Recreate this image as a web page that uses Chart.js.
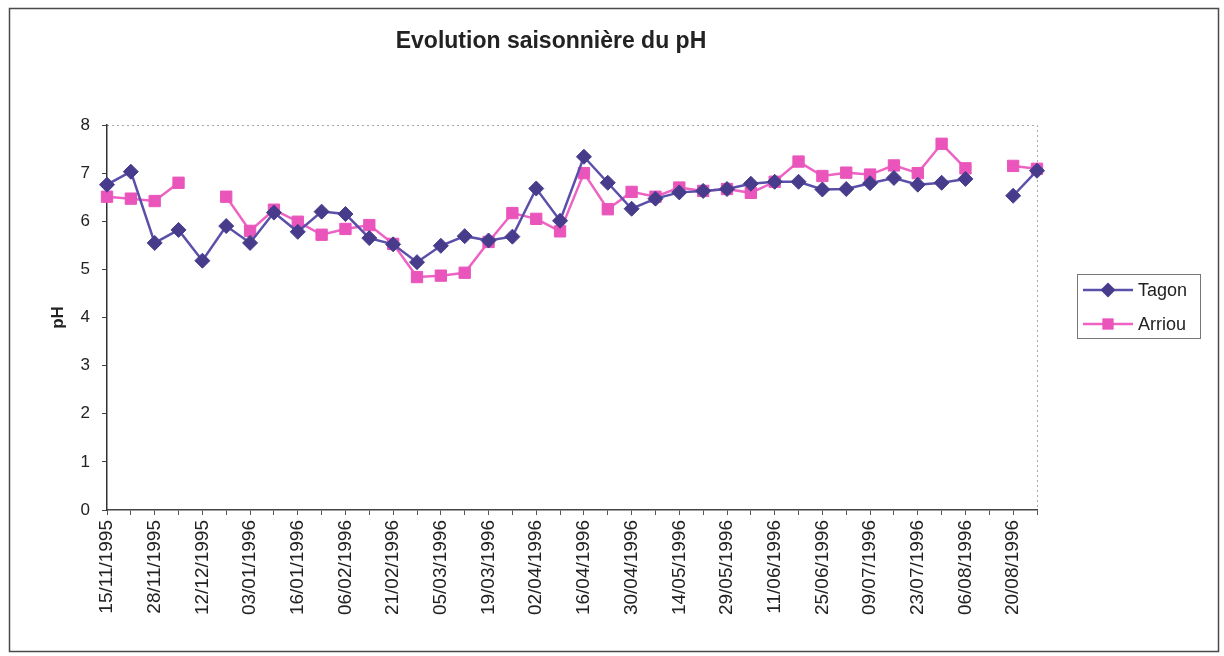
<!DOCTYPE html>
<html>
<head>
<meta charset="utf-8">
<title>Evolution saisonnière du pH</title>
<script src="https://cdn.jsdelivr.net/npm/chart.js@4/dist/chart.umd.min.js"></script>
<style>
  html, body { margin: 0; padding: 0; background: #fff; }
  #wrap { position: relative; width: 1224px; height: 656px; }
</style>
</head>
<body>
<div id="wrap"><canvas id="phChart" width="1224" height="656"></canvas></div>
<script>
// sampling dates (only every second date is printed on the axis)
const dates = [
  '15/11/1995', '', '28/11/1995', '', '12/12/1995', '', '03/01/1996', '', '16/01/1996', '',
  '06/02/1996', '', '21/02/1996', '', '05/03/1996', '', '19/03/1996', '', '02/04/1996', '',
  '16/04/1996', '', '30/04/1996', '', '14/05/1996', '', '29/05/1996', '', '11/06/1996', '',
  '25/06/1996', '', '09/07/1996', '', '23/07/1996', '', '06/08/1996', '', '20/08/1996', ''
];

const tagon = [
  6.76, 7.03, 5.55, 5.82, 5.18, 5.90, 5.55, 6.18, 5.78, 6.20,
  6.15, 5.65, 5.52, 5.15, 5.49, 5.69, 5.60, 5.68, 6.68, 6.01,
  7.34, 6.80, 6.26, 6.47, 6.60, 6.63, 6.67, 6.78, 6.82, 6.82,
  6.66, 6.67, 6.79, 6.90, 6.76, 6.80, 6.88, null, 6.53, 7.05
];

const arriou = [
  6.51, 6.47, 6.42, 6.80, null, 6.51, 5.80, 6.24, 5.99, 5.72,
  5.84, 5.92, 5.53, 4.84, 4.87, 4.93, 5.57, 6.17, 6.05, 5.79,
  7.00, 6.25, 6.61, 6.51, 6.70, 6.63, 6.67, 6.59, 6.82, 7.24,
  6.94, 7.01, 6.97, 7.16, 7.00, 7.61, 7.10, null, 7.15, 7.09
];

const yTicks = [0, 1, 2, 3, 4, 5, 6, 7, 8];

const FONT = 'Arial, "Liberation Sans", sans-serif';

// frame, dotted plot border, title and the boxed legend on the right
const decor = {
    id: 'decor',
    beforeDraw(chart) {
        const { ctx, chartArea: a } = chart;
        ctx.save();
        ctx.fillStyle = '#fff';
        ctx.fillRect(0, 0, chart.width, chart.height);
        ctx.strokeStyle = '#4a4a4a';
        ctx.lineWidth = 1.5;
        ctx.strokeRect(9.5, 8.5, 1209, 643);

        ctx.strokeStyle = '#a8a8a8';
        ctx.lineWidth = 1;
        ctx.setLineDash([2, 3]);
        ctx.beginPath();
        ctx.moveTo(a.left, a.top + 0.5);
        ctx.lineTo(a.right + 0.5, a.top + 0.5);
        ctx.lineTo(a.right + 0.5, a.bottom);
        ctx.stroke();
        ctx.restore();
    },
    afterDraw(chart) {
        const ctx = chart.ctx;
        ctx.save();
        ctx.fillStyle = '#222';
        ctx.font = 'bold 23px ' + FONT;
        ctx.textAlign = 'center';
        ctx.textBaseline = 'middle';
        ctx.fillText('Evolution saisonnière du pH', 551, 42);

        // legend
        ctx.strokeStyle = '#777';
        ctx.lineWidth = 1;
        ctx.strokeRect(1077.5, 274.5, 123, 64);
        chart.data.datasets.forEach((ds, i) => {
            const y = 290 + i * 34;
            ctx.strokeStyle = ds.borderColor;
            ctx.lineWidth = ds.borderWidth;
            ctx.beginPath();
            ctx.moveTo(1083, y);
            ctx.lineTo(1133, y);
            ctx.stroke();
            ctx.fillStyle = ds.pointBackgroundColor;
            Chart.helpers.drawPoint(ctx, {
                pointStyle: ds.pointStyle,
                radius: ds.pointRadius,
                rotation: 0,
                borderWidth: 0
            }, 1108, y);
            ctx.fillStyle = '#222';
            ctx.font = '18px ' + FONT;
            ctx.textAlign = 'left';
            ctx.textBaseline = 'middle';
            ctx.fillText(ds.label, 1138, y + 1);
        });
        ctx.restore();
    }
};

new Chart(document.getElementById('phChart'), {
    type: 'line',
    data: {
        labels: dates,
        datasets: [{
            label: 'Tagon',
            data: tagon,
            borderColor: '#5a50aa',
            borderWidth: 2.5,
            pointStyle: 'rectRot',
            pointRadius: 7.5,
            pointBackgroundColor: '#473c8c',
            pointBorderColor: '#473c8c',
            pointBorderWidth: 1,
            tension: 0,
            clip: false
        }, {
            label: 'Arriou',
            data: arriou,
            borderColor: '#ee62c4',
            borderWidth: 2.5,
            pointStyle: 'rect',
            pointRadius: 8,
            pointBackgroundColor: '#ea55bb',
            pointBorderColor: '#ea55bb',
            pointBorderWidth: 1,
            tension: 0,
            clip: false
        }]
    },
    options: {
        responsive: false,
        animation: false,
        layout: { padding: { left: 44, right: 187, top: 125, bottom: 0 } },
        plugins: {
            legend: { display: false },
            title: { display: false },
            tooltip: { enabled: false }
        },
        scales: {
            x: {
                offset: false,
                afterFit(scale) { scale.height = 146; },
                grid: {
                    drawOnChartArea: false,
                    color: '#555',
                    tickLength: 5
                },
                border: { color: '#444', width: 1.5 },
                ticks: {
                    autoSkip: false,
                    maxRotation: 90,
                    minRotation: 90,
                    padding: 5,
                    color: '#222',
                    font: { family: FONT, size: 19 }
                }
            },
            y: {
                min: 0,
                max: 8,
                afterFit(scale) { scale.width = 63; },
                afterBuildTicks(scale) { scale.ticks = yTicks.map(v => ({ value: v })); },
                grid: {
                    drawOnChartArea: false,
                    color: '#444',
                    tickLength: 5
                },
                border: { color: '#333', width: 1.5 },
                ticks: {
                    padding: 12,
                    color: '#222',
                    font: { family: FONT, size: 17 }
                },
                title: {
                    display: true,
                    text: 'pH',
                    color: '#222',
                    font: { family: FONT, size: 17, weight: 'bold' }
                }
            }
        }
    },
    plugins: [decor]
});
</script>
</body>
</html>
